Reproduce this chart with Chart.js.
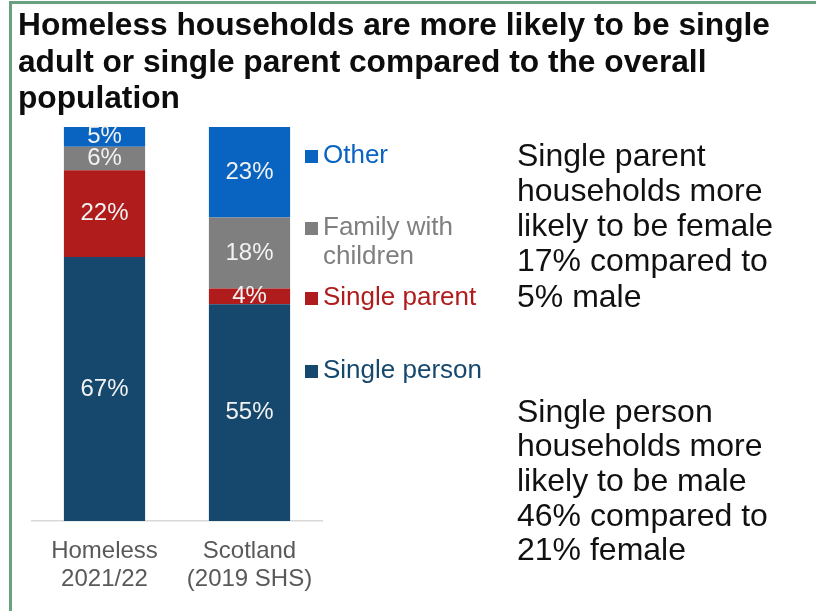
<!DOCTYPE html>
<html>
<head>
<meta charset="utf-8">
<title>Homeless household types</title>
<script src="https://cdn.jsdelivr.net/npm/chart.js@4.4.1/dist/chart.umd.min.js"></script>
<style>
  html, body { margin: 0; padding: 0; background: #fff; }
  #wrap { position: relative; width: 816px; height: 611px; overflow: hidden; }
  #wrap canvas { position: absolute; left: 0; top: 0; }
  /* green panel frame, open on the right and bottom */
  #frame {
    position: absolute; left: 9px; top: 1px; right: -20px; bottom: -20px;
    border-left: 3px solid #6a9f80; border-top: 3px solid #6a9f80;
    pointer-events: none;
  }
</style>
</head>
<body>
<div id="wrap">
  <canvas id="householdChart" width="816" height="611"></canvas>
  <div id="frame"></div>
</div>
<script>
// ---- data ----
const categories = [['Homeless', '2021/22'], ['Scotland', '(2019 SHS)']];
const singlePerson = [67, 55];
const singleParent = [22, 4];
const familyWithChildren = [6, 18];
const other = [5, 23];

const titleLines = [
    'Homeless households are more likely to be single',
    'adult or single parent compared to the overall',
    'population'
];
const parentNote = ['Single parent', 'households more', 'likely to be female', '17% compared to', '5% male'];
const personNote = ['Single person', 'households more', 'likely to be male', '46% compared to', '21% female'];

// ---- styling ----
const FONT = '"Liberation Sans", Arial, sans-serif';
const COLORS = {
    person: '#16476d',
    parent: '#b01c1c',
    family: '#7f7f7f',
    other: '#0864c0'
};

// legend sits beside the Scotland bar, text baselines per entry
const legendItems = [
    { lines: ['Other'], color: COLORS.other, baseline: 163 },
    { lines: ['Family with', 'children'], color: COLORS.family, baseline: 235 },
    { lines: ['Single parent'], color: COLORS.parent, baseline: 305 },
    { lines: ['Single person'], color: COLORS.person, baseline: 378 }
];

/* ===========================================================
   PLUGINS
=========================================================== */

// percentage labels centred in every stacked segment
const segmentLabels = {
    id: 'segmentLabels',
    afterDatasetsDraw(chart) {
        const ctx = chart.ctx;
        ctx.save();
        ctx.font = `24px ${FONT}`;
        ctx.fillStyle = '#f2f2f2';
        ctx.textAlign = 'center';
        ctx.textBaseline = 'middle';
        chart.data.datasets.forEach((ds, i) => {
            chart.getDatasetMeta(i).data.forEach((bar, j) => {
                const { x, y, base } = bar.getProps(['x', 'y', 'base'], true);
                ctx.fillText(ds.data[j] + '%', x, (y + base) / 2);
            });
        });
        ctx.restore();
    }
};

// title, legend and side notes
const panelText = {
    id: 'panelText',
    afterDraw(chart) {
        const ctx = chart.ctx;
        ctx.save();
        ctx.textAlign = 'left';
        ctx.textBaseline = 'alphabetic';

        // Title
        ctx.font = `bold 31.7px ${FONT}`;
        ctx.fillStyle = '#0d0d0d';
        titleLines.forEach((line, i) => ctx.fillText(line, 18, 35 + i * 36.5));

        // Legend
        ctx.font = `26px ${FONT}`;
        legendItems.forEach(item => {
            ctx.fillStyle = item.color;
            ctx.fillRect(305, item.baseline - 13, 13, 13);
            item.lines.forEach((line, k) => ctx.fillText(line, 323, item.baseline + k * 28.5));
        });

        // Notes
        ctx.font = `32px ${FONT}`;
        ctx.fillStyle = '#111';
        parentNote.forEach((line, i) => ctx.fillText(line, 517, 165.5 + i * 35.3));
        personNote.forEach((line, i) => ctx.fillText(line, 517, 421.5 + i * 34.7));

        ctx.restore();
    }
};

/* ===========================================================
   CHART
=========================================================== */

const ctx = document.getElementById('householdChart').getContext('2d');
new Chart(ctx, {
    type: 'bar',
    data: {
        labels: categories,
        datasets: [
            { label: 'Single person', data: singlePerson, backgroundColor: COLORS.person },
            { label: 'Single parent', data: singleParent, backgroundColor: COLORS.parent },
            { label: 'Family with children', data: familyWithChildren, backgroundColor: COLORS.family },
            { label: 'Other', data: other, backgroundColor: COLORS.other }
        ]
    },
    options: {
        responsive: false,
        animation: false,
        devicePixelRatio: 1,
        layout: { padding: { left: 32, right: 494, top: 127, bottom: 0 } },
        datasets: { bar: { barPercentage: 0.56, categoryPercentage: 1, borderWidth: 0 } },
        plugins: {
            legend: { display: false },
            title: { display: false },
            tooltip: { enabled: false }
        },
        scales: {
            x: {
                stacked: true,
                grid: { display: false, drawTicks: false },
                border: { display: true, color: '#d9d9d9', width: 1.5 },
                ticks: {
                    color: '#595959',
                    padding: 16,
                    maxRotation: 0,
                    font: { family: FONT, size: 24, lineHeight: 28 / 24 }
                },
                afterFit(scale) { scale.height = 90; }
            },
            y: {
                stacked: true,
                display: false,
                min: 0,
                max: 100
            }
        }
    },
    plugins: [segmentLabels, panelText]
});
</script>
</body>
</html>
